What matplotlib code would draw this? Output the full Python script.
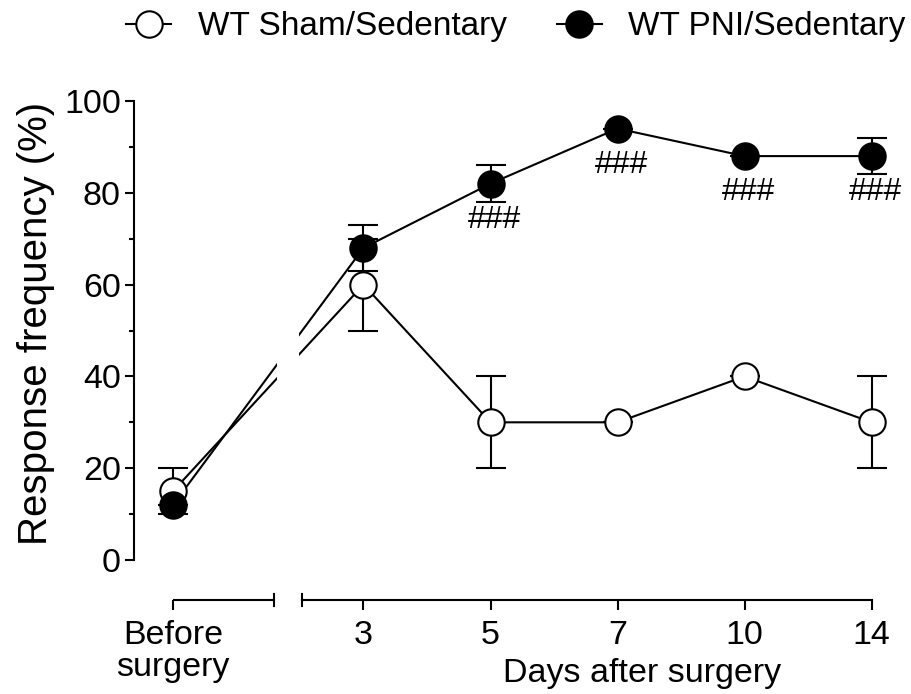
import numpy as np
import matplotlib
matplotlib.use("Agg")
import matplotlib.pyplot as plt
from matplotlib.lines import Line2D

plt.rcParams['font.family'] = ['Liberation Sans', 'DejaVu Sans']

# data
days = ['Before\nsurgery', '3', '5', '7', '10', '14']
xpos = [0, 1.5, 2.5, 3.5, 4.5, 5.5]          # category slots (gap for the axis break)
sham_mean = [15, 60, 30, 30, 40, 30]
sham_sem = [5, 10, 10, 0, 0, 10]
pni_mean = [12, 68, 82, 94, 88, 88]
pni_sem = [0, 5, 4, 0, 0, 4]
sig = ['', '', '###', '###', '###', '###']

fig = plt.figure(figsize=(9.12, 6.94), dpi=100)
ax = fig.add_axes([120 / 912, 1 - 600 / 694, 780 / 912, 510 / 694])

xmin, xmax = -0.417, 5.724
ymin, ymax = -8.71, 102.4
ax.set_xlim(xmin, xmax)
ax.set_ylim(ymin, ymax)

lw = 1.5
ms = 19
cap = 10.5

# connecting lines (below the break mask)
ax.plot(xpos, sham_mean, color='black', lw=lw, zorder=2)
ax.plot(xpos, pni_mean, color='black', lw=lw, zorder=2)
# gap in the connecting lines at the axis break
ax.axvspan(0.82, 0.99, color='white', zorder=2.5, lw=0)

ax.errorbar(xpos, sham_mean, yerr=sham_sem, color='black', ls='none', elinewidth=lw,
            capsize=cap, capthick=lw, marker='o', ms=ms, mfc='white', mec='black',
            mew=lw, zorder=3)
ax.errorbar(xpos, pni_mean, yerr=pni_sem, color='black', ls='none', elinewidth=lw,
            capsize=cap, capthick=lw, marker='o', ms=ms, mfc='black', mec='black',
            mew=lw, zorder=4)

for x, m, s in zip(xpos, pni_mean, sig):
    if s:
        ax.annotate(s, (x, m), xytext=(3, -26), textcoords='offset points',
                    ha='center', va='center', fontsize=23)

# axes styling
for side in ['top', 'right']:
    ax.spines[side].set_visible(False)
ax.spines['left'].set_position(('data', -0.307))
ax.spines['left'].set_bounds(0, 100)
ax.spines['left'].set_linewidth(lw)
ax.spines['bottom'].set_bounds(1.016, 5.5)
ax.spines['bottom'].set_linewidth(lw)

# first (broken) x-axis segment with its end caps
ax.plot([0, 0.795], [ymin, ymin], color='black', lw=lw, clip_on=False,
        solid_capstyle='butt')
for xb in [0.795, 1.016]:
    ax.plot([xb, xb], [ymin - 1.3, ymin + 1.3], color='black', lw=lw, clip_on=False)

ax.set_yticks(np.arange(0, 101, 20))
ax.set_yticks(np.arange(10, 100, 20), minor=True)
ax.set_xticks(xpos)
ax.set_xticklabels(days, linespacing=1.05)
ax.tick_params(axis='y', which='major', length=6.5, width=lw, labelsize=24.5, pad=3)
ax.tick_params(axis='y', which='minor', length=3.6, width=lw)
ax.tick_params(axis='x', length=7.5, width=lw, labelsize=24.5, pad=7)

fig.text(36 / 912, 1 - 323 / 694, 'Response frequency (%)', rotation=90,
         ha='center', va='center', fontsize=29)
fig.text(642 / 912, 1 - 682 / 694, 'Days after surgery', ha='center',
         va='baseline', fontsize=24.5)

handles = [
    Line2D([], [], color='black', lw=lw, marker='o', ms=ms, mfc='white', mec='black', mew=lw),
    Line2D([], [], color='black', lw=lw, marker='o', ms=ms, mfc='black', mec='black', mew=lw),
]
fig.legend(handles, ['WT Sham/Sedentary', 'WT PNI/Sedentary'], loc='center left',
           bbox_to_anchor=(126 / 912, 1 - 27 / 694), ncol=2, frameon=False,
           fontsize=24, handlelength=1.35, handletextpad=0.8, columnspacing=1.5,
           borderpad=0, borderaxespad=0)

fig.savefig('out.png', dpi=100)
